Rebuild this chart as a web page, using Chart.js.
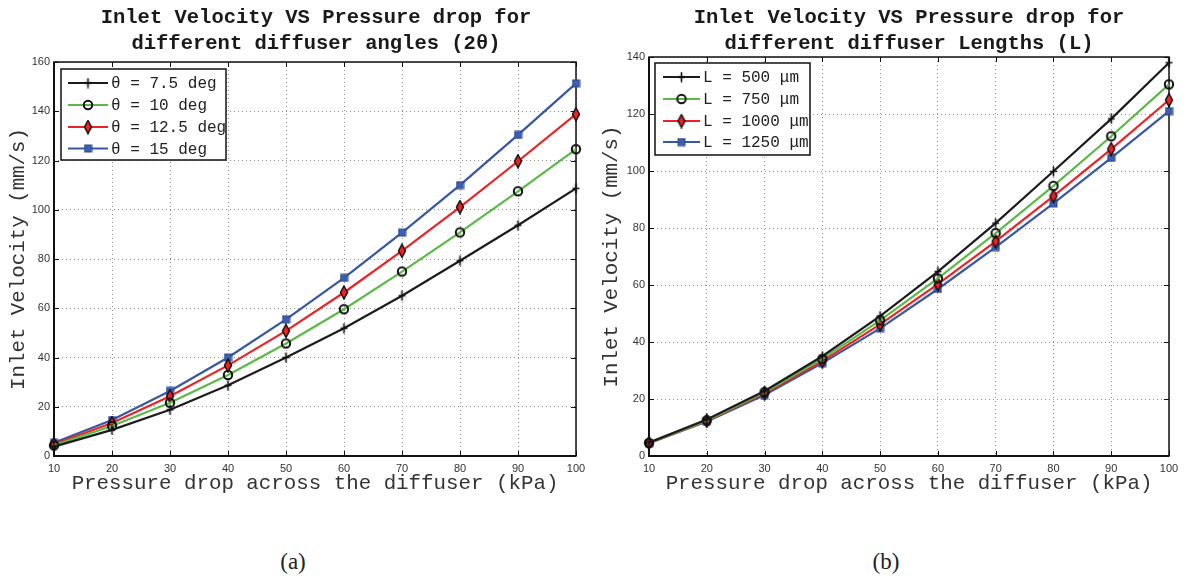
<!DOCTYPE html>
<html><head><meta charset="utf-8">
<script src="https://cdn.jsdelivr.net/npm/chart.js@4.4.1/dist/chart.umd.min.js"></script>
<style>
html,body{margin:0;padding:0;background:#fff;overflow:hidden}
#wrap{position:relative;width:1186px;height:581px;overflow:hidden}
.title{position:absolute;top:5px;font:bold 20.5px "Liberation Mono",monospace;line-height:26px;text-align:center;color:#1a1a1a;white-space:nowrap}
.cap{position:absolute;top:549px;font:23px "Liberation Serif",serif;color:#222;width:100px;text-align:center}
canvas{position:absolute;top:0}
</style></head><body>
<div id="wrap">
<canvas id="c1" width="593" height="500" style="left:0"></canvas>
<canvas id="c2" width="593" height="500" style="left:593px"></canvas>
<div class="title" style="left:16px;width:600px">Inlet Velocity VS Pressure drop for<br>different diffuser angles (2θ)</div>
<div class="title" style="left:629px;width:560px">Inlet Velocity VS Pressure drop for<br>different diffuser Lengths (L)</div>
<div class="cap" style="left:243px">(a)</div>
<div class="cap" style="left:836px">(b)</div>
</div>
<script>
// ---- data ----
const pressure = [10, 20, 30, 40, 50, 60, 70, 80, 90, 100];

const angleLabels = ['θ = 7.5 deg', 'θ = 10 deg', 'θ = 12.5 deg', 'θ = 15 deg'];
const angle75  = [3.8, 10.6, 18.8, 28.7, 40.0, 51.9, 65.1, 79.3, 93.7, 108.7];
const angle10  = [4.3, 12.2, 21.6, 32.9, 45.7, 59.6, 74.9, 90.8, 107.5, 124.6];
const angle125 = [4.8, 13.4, 24.3, 36.8, 50.8, 66.4, 83.3, 101.1, 119.7, 138.8];
const angle15  = [5.4, 14.6, 26.4, 40.0, 55.5, 72.3, 90.7, 110.0, 130.4, 151.3];

const lengthLabels = ['L = 500 μm', 'L = 750 μm', 'L = 1000 μm', 'L = 1250 μm'];
const len500  = [4.7, 12.8, 22.8, 35.0, 49.1, 64.7, 81.7, 99.9, 118.3, 138.0];
const len750  = [4.6, 12.5, 22.4, 34.1, 47.6, 62.3, 78.2, 94.8, 112.2, 130.4];
const len1000 = [4.6, 12.3, 22.0, 33.3, 46.2, 60.3, 75.3, 91.2, 107.7, 124.9];
const len1250 = [4.5, 12.1, 21.4, 32.6, 44.8, 58.6, 73.3, 88.6, 104.6, 121.0];

const xTitle = 'Pressure drop across the diffuser (kPa)';
const yTitle = 'Inlet Velocity (mm/s)';

// ---- styles ----
const colors = ['#1c1c1c', '#5cb947', '#ed2226', '#3656a6'];

function mk(w, h, draw) {
  const c = document.createElement('canvas');
  c.width = w; c.height = h;
  draw(c.getContext('2d'));
  return c;
}
const mPlus = mk(11, 11, g => {
  g.strokeStyle = '#111'; g.lineWidth = 1.6;
  g.beginPath(); g.moveTo(5.5, 0.5); g.lineTo(5.5, 10.5);
  g.moveTo(2, 5.5); g.lineTo(9, 5.5); g.stroke();
});
const mCircle = mk(12, 12, g => {
  g.strokeStyle = '#111'; g.lineWidth = 2;
  g.beginPath(); g.arc(6, 6, 4.2, 0, Math.PI * 2); g.stroke();
});
const mDiamond = mk(10, 15, g => {
  g.fillStyle = '#ed2226'; g.strokeStyle = '#111'; g.lineWidth = 1.5;
  g.beginPath(); g.moveTo(5, 1); g.lineTo(8.5, 7.5); g.lineTo(5, 14); g.lineTo(1.5, 7.5); g.closePath();
  g.fill(); g.stroke();
});
const mSquare = mk(9, 9, g => {
  g.fillStyle = '#3d5fae'; g.fillRect(1, 1, 7, 7);
  g.strokeStyle = '#2a4890'; g.lineWidth = 1; g.strokeRect(1, 1, 7, 7);
});
const markers = [mPlus, mCircle, mDiamond, mSquare];

// ---- plugins ----
const framePlugin = {
  id: 'frame',
  beforeDatasetsDraw(chart) {
    const { ctx, chartArea: a, scales: { x, y } } = chart;
    ctx.save();
    ctx.strokeStyle = '#111';
    ctx.lineWidth = 1;
    const tl = 5;
    ctx.beginPath();
    x.ticks.forEach(t => {
      const px = Math.round(x.getPixelForValue(t.value)) + 0.5;
      ctx.moveTo(px, a.bottom); ctx.lineTo(px, a.bottom - tl);
      ctx.moveTo(px, a.top); ctx.lineTo(px, a.top + tl);
    });
    y.ticks.forEach(t => {
      const py = Math.round(y.getPixelForValue(t.value)) + 0.5;
      ctx.moveTo(a.left, py); ctx.lineTo(a.left + tl, py);
      ctx.moveTo(a.right, py); ctx.lineTo(a.right - tl, py);
    });
    ctx.stroke();
    ctx.lineWidth = 1.5;
    ctx.strokeRect(a.left, a.top, a.right - a.left, a.bottom - a.top);
    ctx.lineWidth = 2;
    ctx.beginPath();
    ctx.moveTo(a.left, a.top); ctx.lineTo(a.left, a.bottom); ctx.lineTo(a.right, a.bottom);
    ctx.stroke();
    ctx.restore();
  }
};

const boxLegend = {
  id: 'boxLegend',
  afterDatasetsDraw(chart, args, o) {
    const ctx = chart.ctx;
    ctx.save();
    ctx.fillStyle = '#fff';
    ctx.fillRect(o.x, o.y, o.w, o.h);
    ctx.strokeStyle = '#111'; ctx.lineWidth = 1.5;
    ctx.strokeRect(o.x, o.y, o.w, o.h);
    ctx.font = '16px "Liberation Mono", monospace';
    ctx.textBaseline = 'middle';
    chart.data.datasets.forEach((ds, i) => {
      const ry = o.rows[i];
      ctx.strokeStyle = ds.borderColor; ctx.lineWidth = 2.2;
      ctx.beginPath(); ctx.moveTo(o.l1, ry); ctx.lineTo(o.l2, ry); ctx.stroke();
      const m = ds.pointStyle;
      ctx.drawImage(m, (o.l1 + o.l2) / 2 - m.width / 2, ry - m.height / 2);
      ctx.fillStyle = '#222';
      ctx.fillText(ds.label, o.tx, ry + 1);
    });
    ctx.restore();
  }
};

function buildChart(id, labels, series, yMax, yWidth, topPad, legend) {
  const datasets = series.map((vals, i) => ({
    label: labels[i],
    data: pressure.map((p, j) => ({ x: p, y: vals[j] })),
    borderColor: colors[i],
    backgroundColor: colors[i],
    borderWidth: 2.2,
    pointStyle: markers[i],
    pointRadius: 5,
    tension: 0,
    clip: false
  }));
  const tickFont = { family: '"Liberation Sans", Arial, sans-serif', size: 11 };
  const titleFont = { family: '"Liberation Mono", monospace', size: 20.8 };
  return new Chart(document.getElementById(id), {
    type: 'line',
    data: { datasets },
    options: {
      responsive: false,
      animation: false,
      events: [],
      layout: { padding: { top: topPad, right: 17, left: 0, bottom: 0 } },
      plugins: {
        legend: { display: false },
        tooltip: { enabled: false },
        boxLegend: legend
      },
      scales: {
        x: {
          type: 'linear', min: 10, max: 100,
          ticks: { stepSize: 10, padding: 6, font: tickFont, color: '#333', maxRotation: 0, autoSkip: false },
          grid: { color: '#8c8c8c', lineWidth: 1, drawTicks: false },
          border: { display: false, dash: [1, 3] },
          title: { display: true, text: xTitle, font: titleFont, color: '#333', padding: { top: 0, bottom: 4.5 } },
          afterFit(s) { s.height = 44; }
        },
        y: {
          type: 'linear', min: 0, max: yMax,
          ticks: { stepSize: 20, padding: 4, font: tickFont, color: '#333' },
          grid: { color: '#8c8c8c', lineWidth: 1, drawTicks: false },
          border: { display: false, dash: [1, 3] },
          title: { display: true, text: yTitle, font: titleFont, color: '#333', padding: { top: 6.5, bottom: 0 } },
          afterFit(s) { s.width = yWidth; }
        }
      }
    },
    plugins: [framePlugin, boxLegend]
  });
}

buildChart('c1', angleLabels, [angle75, angle10, angle125, angle15], 160, 54, 62,
  { x: 61, y: 69, w: 165, h: 91, l1: 68, l2: 108, tx: 111, rows: [83, 105, 127, 148.5] });
buildChart('c2', lengthLabels, [len500, len750, len1000, len1250], 140, 56, 57,
  { x: 62, y: 63, w: 155, h: 92, l1: 70, l2: 107, tx: 110, rows: [77, 99, 121, 142] });
</script>
</body></html>
